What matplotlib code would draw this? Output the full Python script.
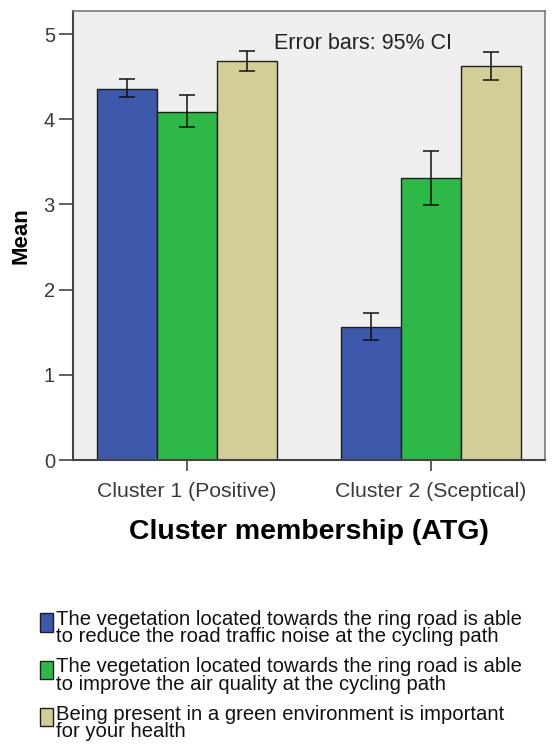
import numpy as np
import matplotlib
matplotlib.use("Agg")
import matplotlib.pyplot as plt
from matplotlib.patches import Rectangle
from matplotlib.legend_handler import HandlerPatch

plt.rcParams["font.family"] = ["Liberation Sans", "DejaVu Sans"]

# Data
clusters = ["Cluster 1 (Positive)", "Cluster 2 (Sceptical)"]
statements = [
    "The vegetation located towards the ring road is able\nto reduce the road traffic noise at the cycling path",
    "The vegetation located towards the ring road is able\nto improve the air quality at the cycling path",
    "Being present in a green environment is important\nfor your health",
]
means_noise = [4.36, 1.565]
means_air = [4.09, 3.31]
means_health = [4.68, 4.62]
ci_low_noise = [4.26, 1.41]
ci_high_noise = [4.47, 1.72]
ci_low_air = [3.91, 2.99]
ci_high_air = [4.28, 3.63]
ci_low_health = [4.56, 4.46]
ci_high_health = [4.80, 4.79]

colors = ["#3e58ac", "#2eb848", "#d3ce97"]


def raised_patch(legend, orig_handle, xdescent, ydescent, width, height, fontsize):
    # legend square sits on the upper part of the two-line label
    return Rectangle((-xdescent, -ydescent + 0.3 * fontsize), width, height)


fig = plt.figure(figsize=(5.56, 7.45), dpi=100)
ax = fig.add_axes([73 / 556, 1 - 460 / 745, 472 / 556, 449 / 745])
ax.set_facecolor("#efefef")

x = np.arange(len(clusters))
width = 0.246
series = [
    (means_noise, ci_low_noise, ci_high_noise),
    (means_air, ci_low_air, ci_high_air),
    (means_health, ci_low_health, ci_high_health),
]
handles = []
for i, (m, lo, hi) in enumerate(series):
    m = np.array(m)
    err = [m - np.array(lo), np.array(hi) - m]
    pos = x + (i - 1) * width
    b = ax.bar(pos, m, width, color=colors[i], edgecolor="#1e1e1e", linewidth=1.0, zorder=2)
    ax.errorbar(pos, m, yerr=err, fmt="none", ecolor="#111111", elinewidth=1.1,
                capsize=5.5, capthick=1.1, zorder=3)
    handles.append(b.patches[0])

ax.set_xlim(-0.467, 1.467)
ax.set_ylim(0, 5.27)
ax.set_xticks(x)
ax.set_xticklabels(clusters, fontsize=15.3, color="#3a3a3a")
ax.set_yticks(range(6))
ax.tick_params(axis="y", length=10, width=1.2, color="#444444", labelsize=14.5,
               labelcolor="#3a3a3a", pad=3)
ax.tick_params(axis="x", length=8, width=1.2, color="#444444", pad=8)

for s in ["top", "right"]:
    ax.spines[s].set_color("#7a7a7a")
    ax.spines[s].set_linewidth(1.2)
for s in ["left", "bottom"]:
    ax.spines[s].set_color("#444444")
    ax.spines[s].set_linewidth(1.5)

ax.set_xlabel("Cluster membership (ATG)", fontsize=20.5, fontweight="bold", labelpad=13)
ax.set_ylabel("Mean", fontsize=16, fontweight="bold", labelpad=8.5)

ax.text(0.425, 0.927, "Error bars: 95% CI", transform=ax.transAxes, fontsize=15.5,
        color="#222222", ha="left", va="center")

leg = fig.legend(handles, statements, loc="upper left", bbox_to_anchor=(40 / 556, 1 - 610 / 745),
                 frameon=False, fontsize=14.6, handlelength=0.65, handleheight=1.0,
                 handletextpad=0.12, labelspacing=0.55, borderpad=0, borderaxespad=0,
                 handler_map={Rectangle: HandlerPatch(patch_func=raised_patch)})
for t in leg.get_texts():
    t.set_linespacing(0.88)
    t.set_color("#111111")

fig.savefig("out.png", dpi=100)
